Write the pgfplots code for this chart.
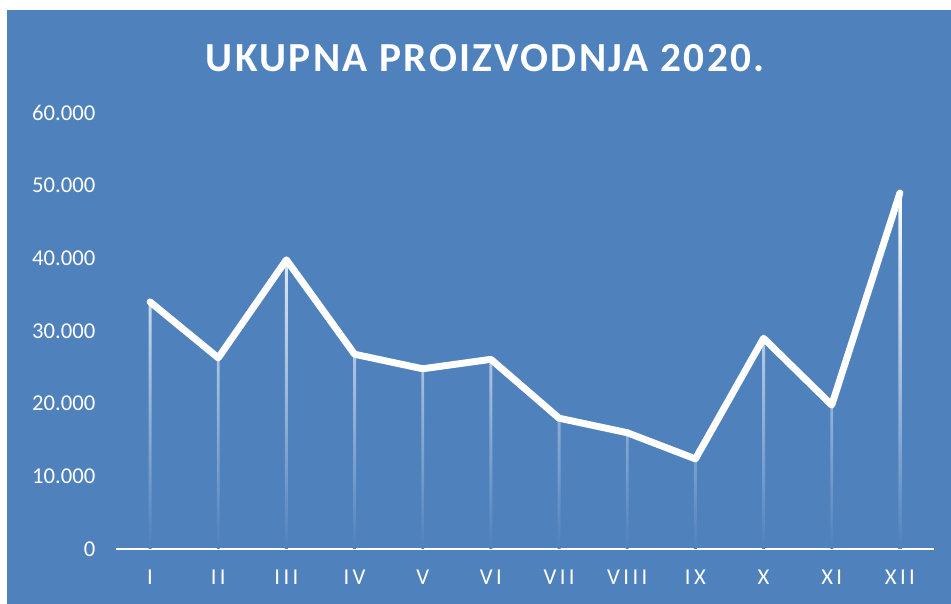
\documentclass[border=0pt]{standalone}
\usepackage{pgfplots}
\pgfplotsset{compat=1.18}
\usepackage{fontspec}
\setmainfont{Carlito}
\definecolor{bg}{RGB}{79,129,189}
\begin{document}
\begin{tikzpicture}
\fill[white] (0,0) rectangle (713.25pt,453pt);
\fill[bg] (5.25pt,0) rectangle (713.25pt,445.5pt);
\node[text=white, font=\fontsize{31}{36}\selectfont\bfseries\addfontfeature{LetterSpace=5.6}] at (364pt,409.5pt) {UKUPNA PROIZVODNJA 2020.};
\begin{axis}[
  at={(87pt,41.25pt)}, anchor=south west,
  scale only axis, width=613.5pt, height=327pt,
  xmin=-0.5, xmax=11.5, ymin=0, ymax=60000,
  axis x line*=bottom, axis y line*=left,
  x axis line style={white, line width=1.6pt},
  y axis line style={draw=none},
  major tick length=0pt,
  xtick={0,...,11},
  xticklabels={I,II,III,IV,V,VI,VII,VIII,IX,X,XI,XII},
  ytick={0,10000,...,60000},
  /pgf/number format/assume math mode=true,
  /pgf/number format/fixed,
  /pgf/number format/1000 sep={.},
  scaled y ticks=false,
  ticklabel style={text=white, font=\fontsize{17}{20}\selectfont},
  xticklabel style={font=\fontsize{17}{20}\selectfont\addfontfeature{LetterSpace=15}, yshift=-12pt},
  yticklabel style={xshift=-12pt},
  clip=false,
]
\addplot[ybar, bar width=2.2pt, draw=none, top color=white, bottom color=bg] coordinates {
(0,34000) (1,26300) (2,39800) (3,26800) (4,24800) (5,26100) (6,18000) (7,16000) (8,12400) (9,29000) (10,19800) (11,49000)};
\addplot[white, line width=5.2pt, line join=round, line cap=round, mark=none] coordinates {
(0,34000) (1,26300) (2,39800) (3,26800) (4,24800) (5,26100) (6,18000) (7,16000) (8,12400) (9,29000) (10,19800) (11,49000)};
\end{axis}
\end{tikzpicture}
\end{document}
